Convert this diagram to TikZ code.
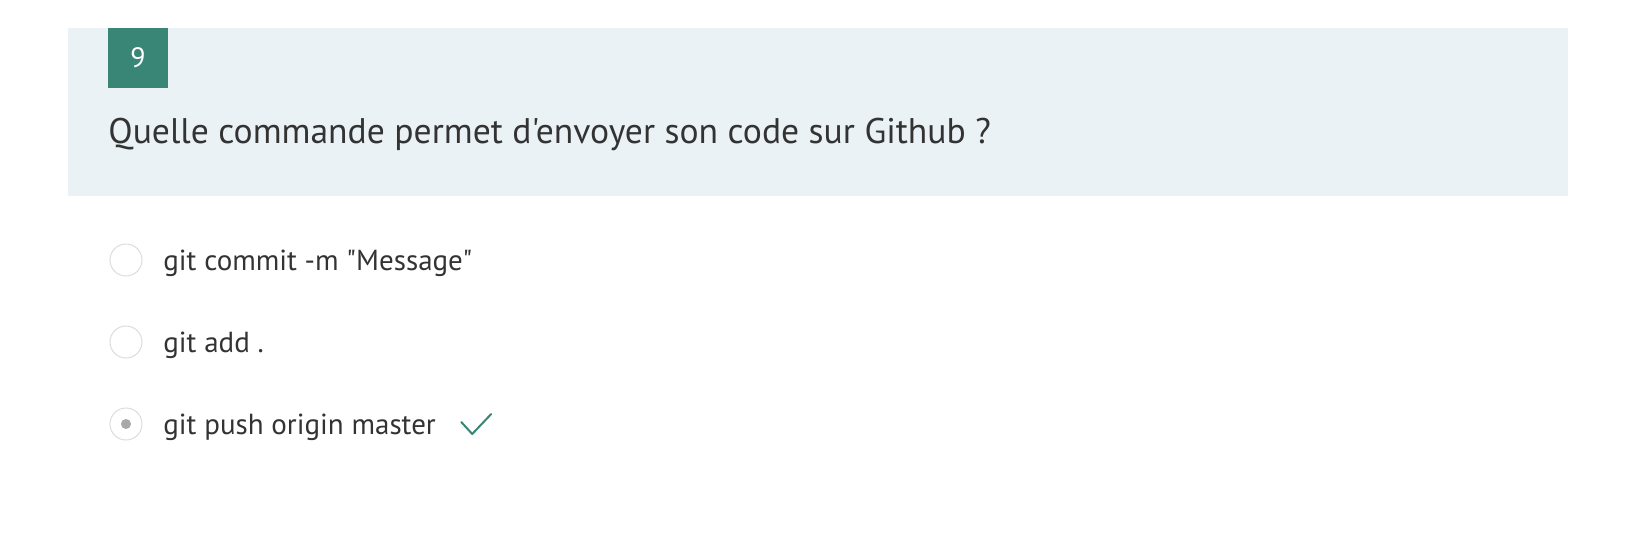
\documentclass[tikz,border=0pt]{standalone}
\usepackage{fontspec}
\setmainfont{PT Sans}[Ligatures=TeXOff]
\usetikzlibrary{positioning}
\definecolor{quizteal}{HTML}{3A8676}
\definecolor{quizpanel}{HTML}{EAF2F5}
\definecolor{quiztext}{HTML}{333333}
\definecolor{quizring}{HTML}{DCDCDC}
\definecolor{quizdot}{HTML}{A8A8A8}
\tikzset{
  question/.style={anchor=base west,inner sep=0pt,text=quiztext,font=\fontsize{17.8}{22}\selectfont},
  answer/.style={anchor=base west,inner sep=0pt,text=quiztext,font=\fontsize{14.5}{18}\selectfont},
  radio/.style={circle,draw=quizring,line width=0.5pt,fill=white,minimum size=16pt,inner sep=0pt},
}
\begin{document}
\begin{tikzpicture}[x=0.5pt,y=-0.5pt]
  % Page size and header panel.
  \useasboundingbox (0,0) rectangle (1630,542);
  \fill[quizpanel] (68,28) rectangle (1568,196);
  % Number badge
  \fill[quizteal] (108,28) rectangle (168,88);
  \node[text=white,font=\fontsize{14}{16}\selectfont] (num) at (138,58) {9};
  % Question
  \node[question] (quest) at (108,143) {Quelle commande permet d'envoyer son code sur Github ?};
  % Answers with their radio buttons
  \node[radio] (r1) at (126,260) {};
  \node[radio] (r2) at (126,342) {};
  \node[radio] (r3) at (126,424) {};
  \fill[quizdot] (r3.center) circle (5);
  \node[answer] (a1) at (163,270) {git commit -m "Message"};
  \node[answer] (a2) at (163,352) {git add .};
  \node[answer] (a3) at (163,434) {git push origin master};
  % Check mark for the right answer, just after the text.
  \draw[quizteal,line width=1pt,line cap=round,line join=round]
    ([shift={(25,-12)}]a3.base east) -- ([shift={(36,0)}]a3.base east) -- ([shift={(55,-20)}]a3.base east);
\end{tikzpicture}
\end{document}
